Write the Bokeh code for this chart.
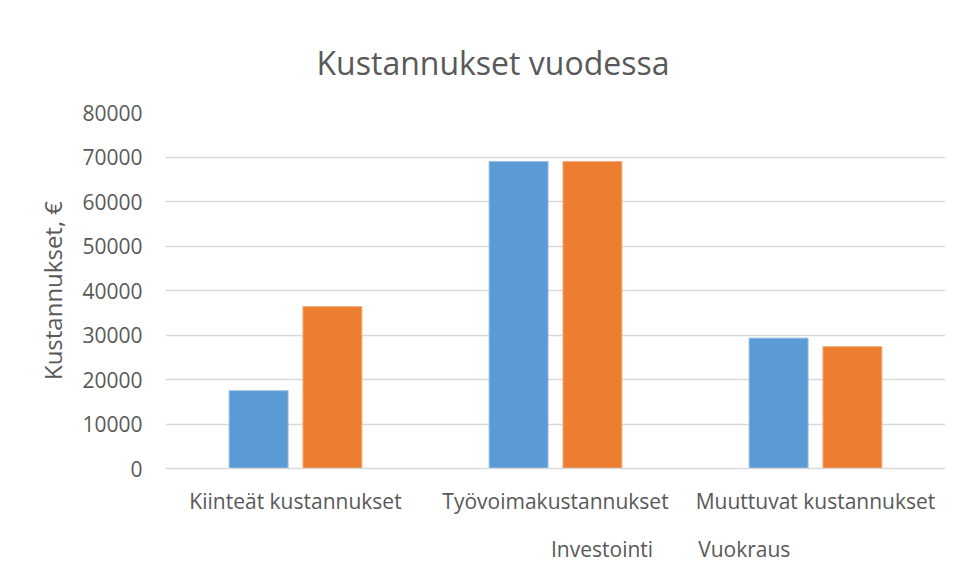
from bokeh.plotting import figure
from bokeh.layouts import column
from bokeh.models import FactorRange, Range1d, FixedTicker, Legend, LegendItem, ColumnDataSource
from bokeh.transform import dodge
from bokeh.embed import file_html
from bokeh.resources import INLINE

categories = ["Kiinteät kustannukset", "Työvoimakustannukset", "Muuttuvat kustannukset"]
investointi = [17500, 69000, 29300]
vuokraus = [36400, 69000, 27400]
y_ticks = [0, 10000, 20000, 30000, 40000, 50000, 60000, 70000, 80000]
series_names = ["Investointi", "Vuokraus"]

FONT = "Open Sans"
GRAY = "#595959"
BLUE, BLUE_EDGE = "#5b9bd5", "#9cc3e6"
ORANGE, ORANGE_EDGE = "#ed7d31", "#f4b183"

src = ColumnDataSource(dict(cat=categories, inv=investointi, vuo=vuokraus))

p = figure(x_range=FactorRange(*categories), y_range=Range1d(0, 80000),
           width=945, height=520, output_backend="svg", toolbar_location=None,
           min_border_left=165, min_border_right=0, min_border_top=112, min_border_bottom=52)
p.title.text = "Kustannukset vuodessa"
p.title.align = "left"
p.title.offset = 151
p.title.text_font = FONT
p.title.text_font_size = "32px"
p.title.text_font_style = "normal"
p.title.text_color = GRAY
p.title.standoff = 58
p.outline_line_color = None

p.vbar(x=dodge("cat", -0.142, range=p.x_range), top="inv", width=0.227, source=src,
       fill_color=BLUE, line_color=BLUE_EDGE, line_width=1)
p.vbar(x=dodge("cat", 0.142, range=p.x_range), top="vuo", width=0.227, source=src,
       fill_color=ORANGE, line_color=ORANGE_EDGE, line_width=1)

p.yaxis.ticker = FixedTicker(ticks=y_ticks)
p.yaxis.axis_line_color = None
p.yaxis.major_tick_line_color = None
p.yaxis.minor_tick_line_color = None
p.yaxis.major_label_text_font = FONT
p.yaxis.major_label_text_font_size = "21px"
p.yaxis.major_label_text_color = GRAY
p.yaxis.major_label_standoff = 17
p.yaxis.axis_label = "Kustannukset, €"
p.yaxis.axis_label_text_font = FONT
p.yaxis.axis_label_text_font_size = "24px"
p.yaxis.axis_label_text_font_style = "normal"
p.yaxis.axis_label_text_color = GRAY
p.yaxis.axis_label_standoff = 10

p.xaxis.axis_line_color = "#d9d9d9"
p.xaxis.axis_line_width = 1.5
p.xaxis.major_tick_line_color = None
p.xaxis.minor_tick_line_color = None
p.xaxis.major_label_text_font = FONT
p.xaxis.major_label_text_font_size = "21px"
p.xaxis.major_label_text_color = GRAY
p.xaxis.major_label_standoff = 12

p.xgrid.grid_line_color = None
p.ygrid.grid_line_color = "#d9d9d9"
p.ygrid.grid_line_width = 1.5

# Legend strip below the chart
p2 = figure(width=945, height=58, output_backend="svg", toolbar_location=None,
            x_range=Range1d(0, 1), y_range=Range1d(0, 1),
            min_border_left=0, min_border_right=0, min_border_top=0, min_border_bottom=0)
p2.axis.visible = False
p2.grid.grid_line_color = None
p2.outline_line_color = None
empty = ColumnDataSource(dict(x=[], top=[]))
k1 = p2.vbar(x="x", top="top", width=0.1, source=empty, fill_color=BLUE, line_color=BLUE_EDGE)
k2 = p2.vbar(x="x", top="top", width=0.1, source=empty, fill_color=ORANGE, line_color=ORANGE_EDGE)

legend = Legend(items=[LegendItem(label=series_names[0], renderers=[k1]),
                       LegendItem(label=series_names[1], renderers=[k2])],
                orientation="horizontal", location=(367, 15),
                label_text_font=FONT, label_text_font_size="21px", label_text_color=GRAY,
                glyph_width=14, glyph_height=14, spacing=26, border_line_color=None,
                background_fill_alpha=0, margin=0, padding=0, label_standoff=5)
p2.add_layout(legend)

open("out.html", "w").write(file_html(column(p, p2, spacing=0), INLINE))
